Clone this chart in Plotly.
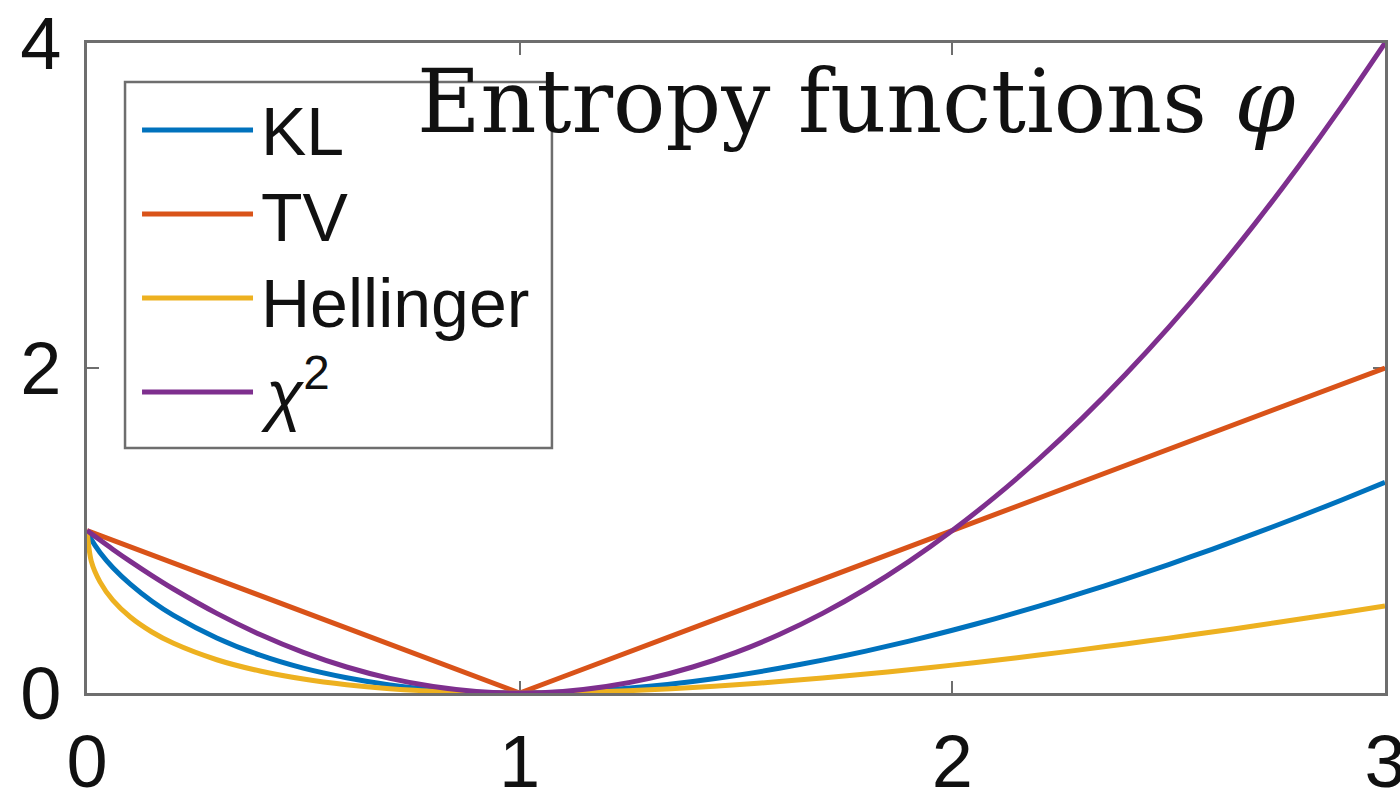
import plotly.graph_objects as go

# ---- data ----
s_values = [0, 0.01, 0.03, 0.06, 0.1, 0.15, 0.2, 0.3, 0.4, 0.5, 0.6, 0.7, 0.8, 0.9, 1.0,
            1.1, 1.2, 1.3, 1.4, 1.5, 1.6, 1.7, 1.8, 1.9, 2.0, 2.1, 2.2, 2.3, 2.4, 2.5,
            2.6, 2.7, 2.8, 2.9, 3.0]
kl_values = [1.0, 0.944, 0.865, 0.771, 0.670, 0.565, 0.478, 0.339, 0.233, 0.153, 0.094, 0.050,
             0.0215, 0.0052, 0.0, 0.0048, 0.0188, 0.0411, 0.0711, 0.1082, 0.152, 0.2021, 0.258,
             0.3195, 0.386, 0.4581, 0.535, 0.6157, 0.701, 0.7907, 0.884, 0.9818, 1.083, 1.1877,
             1.296]
tv_values = [1.0, 0.99, 0.97, 0.94, 0.9, 0.85, 0.8, 0.7, 0.6, 0.5, 0.4, 0.3, 0.2, 0.1, 0.0,
             0.1, 0.2, 0.3, 0.4, 0.5, 0.6, 0.7, 0.8, 0.9, 1.0, 1.1, 1.2, 1.3, 1.4, 1.5,
             1.6, 1.7, 1.8, 1.9, 2.0]
hellinger_values = [1.0, 0.81, 0.684, 0.570, 0.4675, 0.3754, 0.3056, 0.2046, 0.1351, 0.0858,
                    0.0508, 0.0267, 0.0112, 0.0026, 0.0, 0.0024, 0.0091, 0.0196, 0.0336, 0.0505,
                    0.0702, 0.0923, 0.1167, 0.1432, 0.1716, 0.2017, 0.2335, 0.2669, 0.3016,
                    0.3377, 0.3752, 0.4137, 0.4533, 0.4941, 0.5359]
chi2_values = [1.0, 0.9801, 0.9409, 0.8836, 0.81, 0.7225, 0.64, 0.49, 0.36, 0.25, 0.16, 0.09,
               0.04, 0.01, 0.0, 0.01, 0.04, 0.09, 0.16, 0.25, 0.36, 0.49, 0.64, 0.81, 1.0,
               1.21, 1.44, 1.69, 1.96, 2.25, 2.56, 2.89, 3.24, 3.61, 4.0]

series_names = ["KL", "TV", "Hellinger", "<i>χ</i><sup>2</sup>"]
x_ticks = [0, 1, 2, 3]
y_ticks = [0, 2, 4]
title_text = "Entropy functions <i>φ</i>"

colors = ["#0072BD", "#D95319", "#EDB120", "#7E2F8E"]
series = [kl_values, tv_values, hellinger_values, chi2_values]
shapes_kind = ["spline", "linear", "spline", "spline"]

fig = go.Figure()
for name, ys, col, shp in zip(series_names, series, colors, shapes_kind):
    fig.add_trace(go.Scatter(x=s_values, y=ys, mode="lines", name=name,
                             line=dict(color=col, width=5, shape=shp, smoothing=0.8),
                             showlegend=False))

axis_col = "#6e6e6e"
common = dict(showgrid=False, zeroline=False, showline=True, linecolor=axis_col, linewidth=2.5,
              mirror="allticks", ticks="inside", ticklen=12, tickwidth=2, tickcolor=axis_col,
              layer="below traces", automargin=False, ticklabeloverflow="allow",
              tickfont=dict(family="Liberation Sans, Arial", size=74, color="#111111"))

fig.update_xaxes(range=[0, 3], tickvals=x_ticks, ticktext=[str(v) for v in x_ticks],
                 ticklabelstandoff=2, **common)
fig.update_yaxes(range=[0, 4], tickvals=y_ticks, ticktext=[str(v) for v in y_ticks],
                 ticklabelstandoff=8, **common)

# manual legend (MATLAB style long line samples)
leg_x0, leg_x1, leg_y0, leg_y1 = 0.0293, 0.3582, 0.377, 0.94
shapes = [dict(type="rect", xref="paper", yref="paper", x0=leg_x0, x1=leg_x1, y0=leg_y0, y1=leg_y1,
               line=dict(color=axis_col, width=2.5), fillcolor="white", layer="above")]
annotations = []
entry_y = [0.866, 0.737, 0.6077, 0.463]
label_y = [0.865, 0.733, 0.600, 0.468]
for name, col, yy, ly in zip(series_names, colors, entry_y, label_y):
    shapes.append(dict(type="line", xref="paper", yref="paper", x0=0.0424, x1=0.1279, y0=yy, y1=yy,
                       line=dict(color=col, width=5), layer="above"))
    annotations.append(dict(text=name, xref="paper", yref="paper", x=0.1325, y=ly,
                            xanchor="left", yanchor="middle", showarrow=False,
                            font=dict(family="Liberation Sans, Arial", size=68, color="#111111")))

annotations.append(dict(text=title_text, xref="paper", yref="paper", x=0.5925, y=0.909,
                        xanchor="center", yanchor="middle", showarrow=False,
                        font=dict(family="DejaVu Serif", size=87, color="#111111")))

fig.update_layout(width=1400, height=801, margin=dict(l=87, r=15, t=43, b=108, pad=0, autoexpand=False),
                  plot_bgcolor="white", paper_bgcolor="white",
                  shapes=shapes, annotations=annotations, showlegend=False)

fig.write_html("out.html")
